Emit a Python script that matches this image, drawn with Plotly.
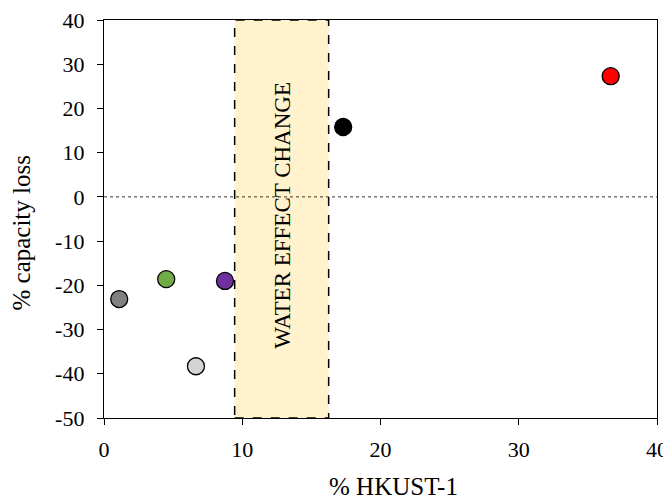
import plotly.graph_objects as go

hkust_pct = [1.1, 4.5, 8.75, 6.65, 17.3, 36.65]
capacity_loss = [-23.1, -18.6, -19.0, -38.3, 15.8, 27.3]
marker_colors = ["#808080", "#70AD47", "#7030A0", "#D4D4D4", "#000000", "#FF0000"]
water_region = [9.45, 16.25]
region_label = "WATER EFFECT CHANGE"
x_title = "% HKUST-1"
y_title = "% capacity loss"
x_ticks = [0, 10, 20, 30, 40]
y_ticks = [-50, -40, -30, -20, -10, 0, 10, 20, 30, 40]
y_tick_text = ["-50", "-40", "-30", "-20", "-10", "0", "10", "20", "30", "40"]

FONT = "Liberation Serif, Times New Roman, serif"

fig = go.Figure()
fig.add_shape(type="rect", xref="x", yref="y", x0=water_region[0], x1=water_region[1],
              y0=-50, y1=40, fillcolor="#FFF2CC",
              line=dict(color="black", width=1.5, dash="dash"), layer="below")
fig.add_shape(type="line", xref="x", yref="y", x0=0, x1=40, y0=0, y1=0,
              line=dict(color="black", width=0.8, dash="3px,3px"), layer="below")
fig.add_trace(go.Scatter(
    x=hkust_pct, y=capacity_loss, mode="markers",
    marker=dict(size=17, color=marker_colors, line=dict(color="black", width=1.3)),
    showlegend=False, cliponaxis=False))
fig.add_annotation(x=sum(water_region) / 2, y=-4.1, xref="x", yref="y", text=region_label,
                   textangle=-90, showarrow=False,
                   font=dict(family=FONT, size=23, color="black"))
fig.add_annotation(x=0.523, y=-0.171, xref="paper", yref="paper", text=x_title,
                   showarrow=False, xanchor="center", yanchor="middle",
                   font=dict(family=FONT, size=25, color="black"))
fig.add_annotation(x=-0.149, y=0.465, xref="paper", yref="paper", text=y_title,
                   textangle=-90, showarrow=False, xanchor="center", yanchor="middle",
                   font=dict(family=FONT, size=25, color="black"))

axis_common = dict(showgrid=False, zeroline=False, showline=True, linecolor="black",
                   linewidth=1.3, mirror=True, ticks="outside", ticklen=6,
                   tickcolor="black", tickwidth=1.3, automargin=False,
                   ticklabeloverflow="allow",
                   tickfont=dict(family=FONT, size=22, color="black"))
fig.update_xaxes(range=[0, 40], tickvals=x_ticks, ticklabelstandoff=5, **axis_common)
fig.update_yaxes(range=[-50, 40], tickvals=y_ticks, ticktext=y_tick_text,
                 ticklabelstandoff=8, **axis_common)
fig.update_layout(width=663, height=488, margin=dict(l=96, r=14, t=12, b=78),
                  plot_bgcolor="white", paper_bgcolor="white")
fig.write_html("out.html")
